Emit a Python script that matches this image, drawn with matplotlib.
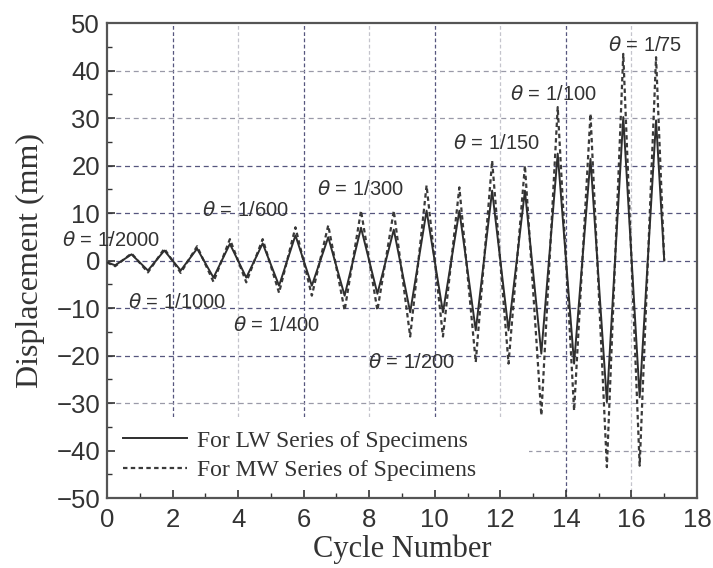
import numpy as np
import matplotlib
matplotlib.use('Agg')
import matplotlib.pyplot as plt
from matplotlib.patches import Rectangle

# Peak / trough displacement of each loading cycle (mm)
cycles = list(range(17))
lwTrough = [-1.0, -2.1, -2.1, -3.6, -3.6, -5.3, -5.3, -7.4, -7.0, -10.9, -10.9,
            -14.7, -14.7, -19.6, -21.7, -29.8, -28.8]
lwPeak = [1.3, 2.1, 2.5, 3.5, 3.6, 5.3, 4.9, 6.9, 6.5, 10.5, 10.5,
          14.7, 14.7, 22.5, 21.4, 30.2, 29.5]
mwTrough = [-1.2, -2.5, -2.6, -4.5, -4.6, -6.8, -7.4, -10.5, -10.5, -16.0, -16.0,
            -21.4, -21.7, -32.6, -31.6, -43.5, -43.2]
mwPeak = [1.5, 2.5, 3.0, 4.5, 4.5, 7.0, 7.4, 10.5, 10.5, 15.8, 15.4,
          21.0, 20.0, 32.3, 30.9, 43.5, 42.8]
startValue = -0.4
endValue = 0.0

driftLabels = ['1/2000', '1/1000', '1/600', '1/400', '1/300',
               '1/200', '1/150', '1/100', '1/75']
driftLabelPos = [(-1.37, 4.2), (0.64, -8.8), (2.9, 10.5), (3.84, -13.7), (6.4, 15.0),
                 (7.96, -21.5), (10.55, 24.6), (12.29, 35.0), (15.27, 45.3)]


def buildPath(troughs, peaks):
  xs = [0.0]
  ys = [startValue]
  for n, lo, hi in zip(cycles, troughs, peaks):
    xs += [n + 0.25, n + 0.75]
    ys += [lo, hi]
  xs.append(len(cycles))
  ys.append(endValue)
  return xs, ys


fig = plt.figure(figsize=(7.13, 5.68), dpi=100)
ax = fig.add_axes([0.150, 0.1232, 0.8276, 0.8363])

tickFont = 'Liberation Sans'
serifFont = 'Liberation Serif'

# Grid (scanned look: some lines darker than others)
dark = '#56567e'
light = '#c4c4cc'
for gx in [2, 4, 6, 8, 10, 12, 14, 16]:
  c = dark if gx in (2, 6, 10, 14) else light
  ax.axvline(gx, color=c, ls=(0, (3, 2)), lw=0.9, zorder=0)
for gy in [-40, -30, -20, -10, 0, 10, 20, 30, 40]:
  c = dark if gy in (-20, -10, 0, 10, 20) else '#9a9aa8'
  ax.axhline(gy, color=c, ls=(0, (4, 3)), lw=0.9, zorder=0)

# White area behind the legend
ax.add_patch(Rectangle((0, 0), 0.715, 0.17, transform=ax.transAxes,
                       facecolor='white', edgecolor='none', zorder=1))

xs, ys = buildPath(lwTrough, lwPeak)
ax.plot(xs, ys, '-', color='#2e2e2e', lw=1.4, label='For LW Series of Specimens', zorder=3)
xs, ys = buildPath(mwTrough, mwPeak)
ax.plot(xs, ys, color='#3a3a3a', lw=1.6, ls=(0, (2, 1.5)),
        label='For MW Series of Specimens', zorder=2)

for lab, (tx, ty) in zip(driftLabels, driftLabelPos):
  ax.text(tx, ty, r'$\theta$ = ' + lab, fontsize=14.5, family=tickFont,
          color='#333333', ha='left', va='center', clip_on=False, zorder=4)

ax.set_xlim(0, 18)
ax.set_ylim(-50, 50)
ax.set_xticks(range(0, 19, 2))
ax.set_yticks(range(-50, 51, 10))
ax.set_xticks(range(1, 18, 2), minor=True)
ax.set_yticks(range(-45, 50, 10), minor=True)
ax.tick_params(which='both', direction='in', top=False, right=False, colors='#333333')
ax.tick_params(which='major', length=6, width=1.2, labelsize=18.5)
ax.tick_params(axis='x', which='major', pad=7)
ax.tick_params(axis='y', which='major', pad=5)
ax.tick_params(which='minor', length=3.5, width=1.0)
yLabels = [str(v).replace('-', '\u2212') for v in range(-50, 51, 10)]
ax.set_yticklabels(yLabels, family=tickFont, color='#333333')
ax.set_xticklabels([str(v) for v in range(0, 19, 2)], family=tickFont, color='#333333')

for s in ax.spines.values():
  s.set_color('#555555')
  s.set_linewidth(1.6)

ax.set_xlabel('Cycle Number', family=serifFont, fontsize=22, color='#333333', labelpad=2)
ax.set_ylabel('Displacement (mm)', family=serifFont, fontsize=23, color='#333333', labelpad=8)

ax.legend(loc='lower left', bbox_to_anchor=(0.0, 0.0), frameon=False,
          prop={'family': serifFont, 'size': 17}, handlelength=2.7,
          handletextpad=0.4, labelspacing=0.35, borderaxespad=0.3,
          labelcolor='#333333')

plt.savefig('out.png', dpi=100)
